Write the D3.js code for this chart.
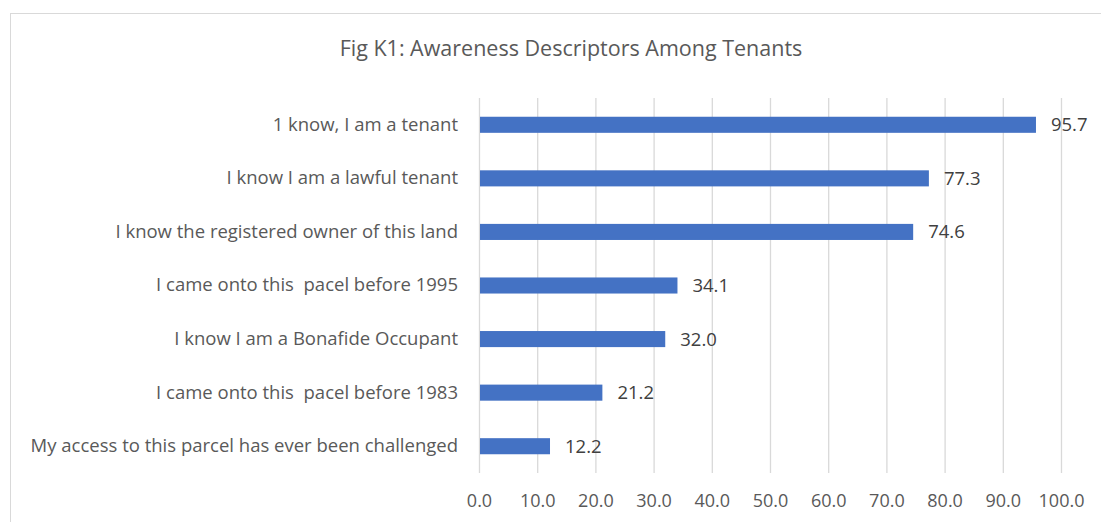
<!DOCTYPE html>
<html>
<head>
<meta charset="utf-8">
<script src="https://cdn.jsdelivr.net/npm/d3@7"></script>
<style>
  body { margin: 0; background: #fff; }
  text { font-family: "Open Sans", "Noto Sans", sans-serif; white-space: pre; }
</style>
</head>
<body>
<div id="chart"></div>
<script>
// data
const categories = [
  '1 know, I am a tenant',
  'I know I am a lawful tenant',
  'I know the registered owner of this land',
  'I came onto this  pacel before 1995',
  'I know I am a Bonafide Occupant',
  'I came onto this  pacel before 1983',
  'My access to this parcel has ever been challenged'
]
const values = [95.7, 77.3, 74.6, 34.1, 32.0, 21.2, 12.2]
const xTicks = [0, 10, 20, 30, 40, 50, 60, 70, 80, 90, 100]
const title = 'Fig K1: Awareness Descriptors Among Tenants'

const width = 1101
const height = 522
const margin = { top: 98, right: 40, bottom: 49, left: 479 }

const svg = d3.select('#chart')
  .append('svg')
  .attr('width', width)
  .attr('height', height)

// chart border
svg.append('rect')
  .attr('x', 10.5)
  .attr('y', 13.5)
  .attr('width', width + 10)
  .attr('height', height + 10)
  .attr('fill', 'none')
  .attr('stroke', '#d9d9d9')

// scales
let x = d3.scaleLinear()
  .domain([0, 100])
  .range([margin.left, 1061])

let y = d3.scaleBand()
  .domain(categories)
  .range([margin.top, height - margin.bottom])
  .paddingInner(0.7)
  .paddingOuter(0.35)

// gridlines
svg.append('g')
  .selectAll('line')
  .data(xTicks)
  .join('line')
  .attr('x1', (d) => x(d) + 0.5)
  .attr('x2', (d) => x(d) + 0.5)
  .attr('y1', margin.top)
  .attr('y2', height - margin.bottom)
  .attr('stroke', '#d9d9d9')
  .attr('stroke-width', 1.3)

// x axis labels
let xAxis = d3.axisBottom(x)
  .tickValues(xTicks)
  .tickFormat(d3.format('.1f'))
  .tickSize(0)
  .tickPadding(21)

svg.append('g')
  .attr('transform', `translate(0, ${height - margin.bottom})`)
  .call(xAxis)
  .call((g) => g.select('.domain').remove())
  .selectAll('text')
  .attr('fill', '#595959')
  .style('font-size', '18px')
  .style('font-family', '"Open Sans", sans-serif')

// y axis labels
let yAxis = d3.axisLeft(y)
  .tickSize(0)
  .tickPadding(21)

svg.append('g')
  .attr('transform', `translate(${margin.left}, 0)`)
  .call(yAxis)
  .call((g) => g.select('.domain').remove())
  .selectAll('text')
  .attr('fill', '#595959')
  .style('font-size', '18.5px')
  .style('font-family', '"Open Sans", sans-serif')

// bars
svg.append('g')
  .selectAll('rect')
  .data(values)
  .join('rect')
  .attr('x', x(0) + 1)
  .attr('y', (d, i) => y(categories[i]))
  .attr('width', (d) => x(d) - x(0) - 1)
  .attr('height', y.bandwidth())
  .attr('fill', '#4472c4')

// value labels
svg.append('g')
  .selectAll('text')
  .data(values)
  .join('text')
  .attr('x', (d) => x(d) + 15)
  .attr('y', (d, i) => y(categories[i]) + y.bandwidth() / 2)
  .attr('dy', '0.35em')
  .attr('fill', '#404040')
  .style('font-size', '18.5px')
  .text((d) => d.toFixed(1))

// title
svg.append('text')
  .attr('x', 571)
  .attr('y', 48)
  .attr('dy', '0.35em')
  .attr('text-anchor', 'middle')
  .attr('fill', '#595959')
  .style('font-size', '21.5px')
  .text(title)
</script>
</body>
</html>
